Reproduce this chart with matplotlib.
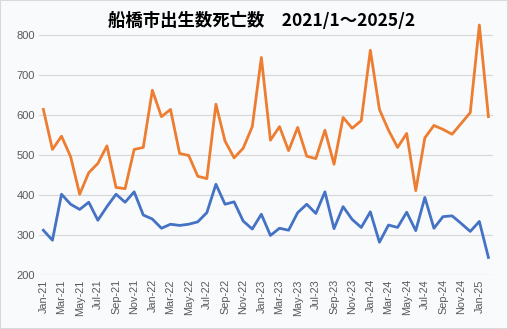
import matplotlib.pyplot as plt
from matplotlib.patches import Rectangle

plt.rcParams['font.family'] = ['Noto Sans CJK JP', 'DejaVu Sans']

# 2021/1 ~ 2025/2 monthly
months = ['Jan', 'Feb', 'Mar', 'Apr', 'May', 'Jun',
          'Jul', 'Aug', 'Sep', 'Oct', 'Nov', 'Dec']
labels = [f'{m}-{y}' for y in range(21, 26) for m in months][:50]

births = [312, 287, 402, 377, 364, 382, 337, 371, 402, 382, 408, 350,
          340, 317, 327, 324, 327, 333, 356, 427, 377, 383, 335, 315,
          352, 299, 317, 312, 356, 377, 354, 408, 316, 371, 339, 319,
          358, 282, 325, 319, 357, 311, 394, 317, 346, 348, 329, 309,
          334, 244]
deaths = [614, 514, 547, 496, 402, 456, 479, 523, 419, 416, 514, 519,
          662, 596, 614, 504, 499, 447, 441, 627, 535, 493, 517, 571,
          744, 537, 571, 511, 569, 497, 491, 562, 477, 594, 567, 586,
          762, 614, 562, 519, 554, 411, 543, 574, 564, 552, 579, 606,
          825, 596]

bg = '#f9fafc'
fig = plt.figure(figsize=(5.08, 3.29), dpi=100, facecolor=bg)
ax = fig.add_axes([0.0764, 0.164, 0.894, 0.766], facecolor=bg)

x = list(range(len(labels)))
ax.plot(x, births, color='#4472c4', lw=2.0, solid_joinstyle='round', label='出生数')
ax.plot(x, deaths, color='#ed7d31', lw=2.0, solid_joinstyle='round', label='死亡数')

ax.set_xlim(-0.5, len(labels) - 0.5)
ax.set_ylim(200, 830)
ax.set_yticks(range(200, 801, 100))
ax.set_xticks(x[::2])
ax.set_xticklabels(labels[::2], rotation=90, fontsize=7.8, color='#595959',
                   family=['Liberation Sans', 'DejaVu Sans'])
for t in ax.get_yticklabels():
    t.set_fontsize(8)
    t.set_color('#595959')
    t.set_family(['Liberation Sans', 'DejaVu Sans'])

ax.grid(axis='y', color='#d9d9d9', lw=0.9)
ax.set_axisbelow(True)
ax.tick_params(length=0, pad=3)
for s in ax.spines.values():
    s.set_visible(False)

fig.text(0.515, 0.922, '船橋市出生数死亡数　2021/1～2025/2', ha='center',
         fontsize=12.5, fontweight='bold', color='black')

fig.patches.append(Rectangle((0, 0), 1, 1, transform=fig.transFigure,
                             fill=False, edgecolor='#d9d9d9', lw=1.5))

fig.savefig('out.png', dpi=100, facecolor=bg)
